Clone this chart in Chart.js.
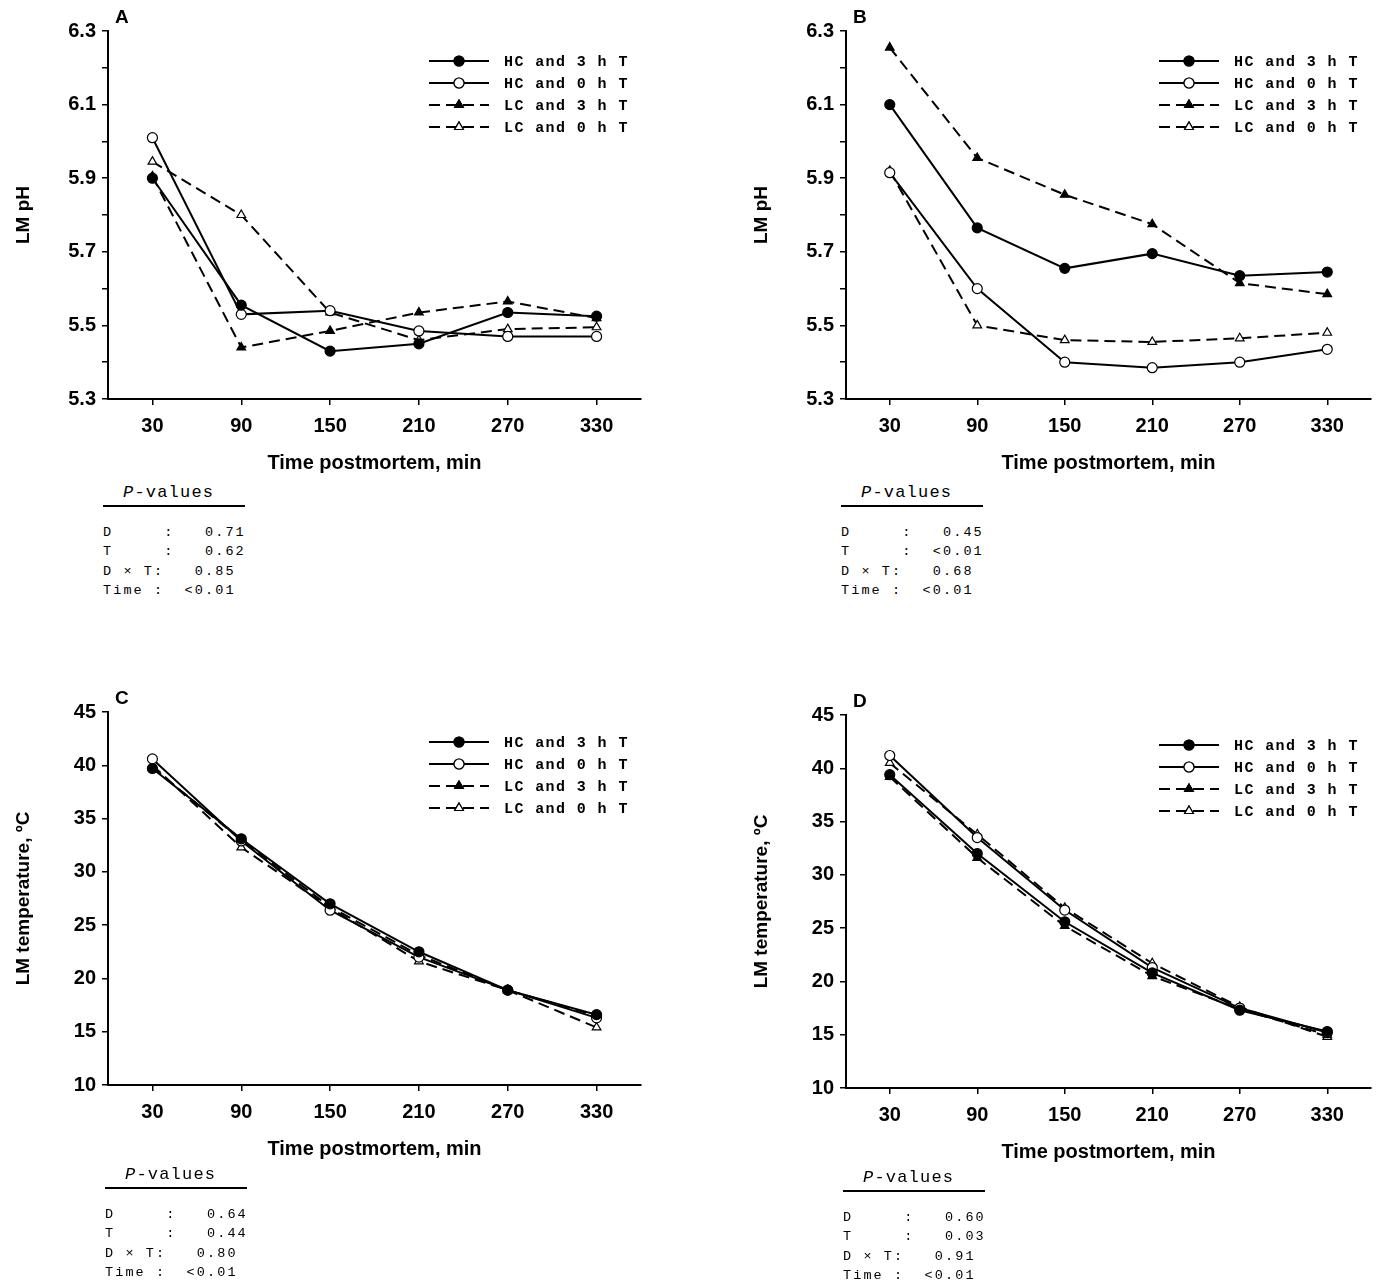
<!DOCTYPE html>
<html><head><meta charset="utf-8">
<script src="https://cdn.jsdelivr.net/npm/chart.js@4/dist/chart.umd.min.js"></script>
<style>
body{margin:0;background:#fff;width:1381px;height:1282px;position:relative;overflow:hidden}
canvas{position:absolute}
.pv{position:absolute;font-family:"Liberation Mono",monospace;font-size:13.5px;letter-spacing:2.1px;line-height:19.3px;white-space:pre;color:#000}
.pv .h{font-size:17px;letter-spacing:1.2px;display:block;border-bottom:2px solid #000;width:142px;padding-left:20px;box-sizing:border-box;margin-bottom:16px;line-height:24px}
</style></head><body>
<canvas id="cA"></canvas><canvas id="cB"></canvas><canvas id="cC"></canvas><canvas id="cD"></canvas>
<div class="pv" style="left:103px;top:481px"><span class="h"><i>P</i>-values</span>D     :   0.71
T     :   0.62
D × T:   0.85
Time :  <0.01</div>
<div class="pv" style="left:841px;top:481px"><span class="h"><i>P</i>-values</span>D     :   0.45
T     :  <0.01
D × T:   0.68
Time :  <0.01</div>
<div class="pv" style="left:105px;top:1163px"><span class="h"><i>P</i>-values</span>D     :   0.64
T     :   0.44
D × T:   0.80
Time :  <0.01</div>
<div class="pv" style="left:843px;top:1166px"><span class="h"><i>P</i>-values</span>D     :   0.60
T     :   0.03
D × T:   0.91
Time :  <0.01</div>
<script>
const times = [30, 90, 150, 210, 270, 330];
const seriesNames = ["HC and 3 h T", "HC and 0 h T", "LC and 3 h T", "LC and 0 h T"];
const phTicks = [5.3, 5.5, 5.7, 5.9, 6.1, 6.3];
const tempTicks = [10, 15, 20, 25, 30, 35, 40, 45];
// Panel A (pH)
const A_HC3 = [5.90, 5.555, 5.43, 5.45, 5.535, 5.525];
const A_HC0 = [6.01, 5.53, 5.54, 5.485, 5.47, 5.47];
const A_LC3 = [5.905, 5.44, 5.485, 5.535, 5.565, 5.52];
const A_LC0 = [5.945, 5.80, 5.535, 5.46, 5.49, 5.495];
// Panel B (pH)
const B_HC3 = [6.10, 5.765, 5.655, 5.695, 5.635, 5.645];
const B_HC0 = [5.915, 5.60, 5.40, 5.385, 5.40, 5.435];
const B_LC3 = [6.255, 5.955, 5.855, 5.775, 5.615, 5.585];
const B_LC0 = [5.92, 5.50, 5.46, 5.455, 5.465, 5.48];
// Panel C (temperature)
const C_HC3 = [39.7, 33.1, 27.0, 22.5, 18.9, 16.6];
const C_HC0 = [40.6, 32.9, 26.4, 22.0, 18.9, 16.3];
const C_LC3 = [39.8, 33.0, 26.7, 22.2, 18.9, 16.5];
const C_LC0 = [40.0, 32.3, 26.6, 21.6, 18.9, 15.4];
// Panel D (temperature)
const D_HC3 = [39.4, 32.0, 25.6, 20.8, 17.3, 15.3];
const D_HC0 = [41.2, 33.5, 26.7, 21.3, 17.5, 15.2];
const D_LC3 = [39.2, 31.6, 25.2, 20.5, 17.4, 15.0];
const D_LC0 = [40.5, 33.8, 26.9, 21.7, 17.6, 14.8];

const styles = [
  {dash: [], fill: '#000', ps: 'circle'},
  {dash: [], fill: '#fff', ps: 'circle'},
  {dash: [11, 6], fill: '#000', ps: 'triangle'},
  {dash: [11, 6], fill: '#fff', ps: 'triangle'}
];

const legendPlugin = {
  id: 'customLegend',
  afterDraw(chart) {
    const ctx = chart.ctx, a = chart.chartArea;
    const x0 = a.right - 212, x1 = a.right - 152, tx = a.right - 137;
    chart.data.datasets.forEach((ds, i) => {
      const y = a.top + 30 + i * 22;
      ctx.save();
      ctx.strokeStyle = '#000'; ctx.lineWidth = 2; ctx.setLineDash(styles[i].dash);
      ctx.beginPath(); ctx.moveTo(x0, y); ctx.lineTo(x1, y); ctx.stroke();
      ctx.setLineDash([]);
      ctx.fillStyle = styles[i].fill; ctx.lineWidth = 1.2;
      Chart.helpers.drawPoint(ctx, {pointStyle: styles[i].ps, radius: 5, borderWidth: 1.2}, (x0 + x1) / 2, y);
      ctx.fill(); ctx.stroke();
      ctx.fillStyle = '#000'; ctx.font = 'bold 15px "Liberation Mono", monospace';
      ctx.letterSpacing = '1.4px';
      ctx.textBaseline = 'middle'; ctx.fillText(ds.label, tx, y + 1);
      ctx.restore();
    });
    ctx.save();
    ctx.fillStyle = '#000'; ctx.font = 'bold 19px "Liberation Sans", Arial';
    ctx.textBaseline = 'middle';
    ctx.fillText(chart.options.panelLetter, a.left + 7, a.top - 13);
    ctx.restore();
  }
};

function makeChart(id, left, top, plotW, plotH, letter, data, yMin, yMax, yStep, yLabelTicks, yTitle, decimals) {
  const cv = document.getElementById(id);
  const yW = 100, xH = 82, padT = 32, padR = 20, padL = 8;
  const W = padL + yW + plotW + padR, H = padT + plotH + xH;
  cv.style.left = left + 'px'; cv.style.top = top + 'px';
  cv.width = W; cv.height = H; cv.style.width = W + 'px'; cv.style.height = H + 'px';
  new Chart(cv, {
    type: 'line',
    data: {
      datasets: data.map((vals, i) => ({
        label: seriesNames[i],
        data: vals.map((v, j) => ({x: times[j], y: v})),
        borderColor: '#000', borderWidth: 2, borderDash: styles[i].dash,
        pointStyle: styles[i].ps, pointRadius: 5, pointBackgroundColor: styles[i].fill,
        pointBorderColor: '#000', pointBorderWidth: 1.2, tension: 0, fill: false
      }))
    },
    options: {
      panelLetter: letter,
      responsive: false, animation: false, devicePixelRatio: 1,
      layout: {padding: {top: padT, right: padR, left: padL, bottom: 0}},
      plugins: {legend: {display: false}, tooltip: {enabled: false}},
      scales: {
        x: {
          type: 'linear', min: 0, max: 360,
          afterBuildTicks: s => { s.ticks = times.map(v => ({value: v})); },
          afterFit: s => { s.height = xH; },
          border: {color: '#000', width: 2},
          grid: {drawOnChartArea: false, color: '#000', tickLength: 6, lineWidth: 1.5},
          ticks: {color: '#000', font: {family: '"Liberation Sans", Arial', size: 20, weight: 'bold'}, padding: 9, maxRotation: 0},
          title: {display: true, text: 'Time postmortem, min', color: '#000', font: {family: '"Liberation Sans", Arial', size: 20, weight: 'bold'}, padding: {top: 0, bottom: 6}}
        },
        y: {
          type: 'linear', min: yMin, max: yMax,
          afterBuildTicks: s => {
            const t = []; for (let v = yMin; v <= yMax + 1e-9; v += yStep) t.push({value: +v.toFixed(3)});
            s.ticks = t;
          },
          afterFit: s => { s.width = yW; },
          border: {color: '#000', width: 2},
          grid: {drawOnChartArea: false, color: '#000', tickLength: 6, lineWidth: 1.5},
          ticks: {color: '#000', font: {family: '"Liberation Sans", Arial', size: 20, weight: 'bold'}, padding: 6,
            callback: v => yLabelTicks.some(t => Math.abs(t - v) < 1e-6) ? v.toFixed(decimals) : ''},
          title: {display: true, text: yTitle, color: '#000', font: {family: '"Liberation Sans", Arial', size: 19, weight: 'bold'}, padding: {bottom: 4}}
        }
      }
    },
    plugins: [legendPlugin]
  });
}

makeChart('cA', 0, -1, 533, 368, 'A', [A_HC3, A_HC0, A_LC3, A_LC0], 5.3, 6.3, 0.1, phTicks, 'LM pH', 1);
makeChart('cB', 738, -1, 525, 368, 'B', [B_HC3, B_HC0, B_LC3, B_LC0], 5.3, 6.3, 0.1, phTicks, 'LM pH', 1);
makeChart('cC', 0, 680, 533, 373, 'C', [C_HC3, C_HC0, C_LC3, C_LC0], 10, 45, 5, tempTicks, 'LM temperature, ºC', 0);
makeChart('cD', 738, 683, 525, 373, 'D', [D_HC3, D_HC0, D_LC3, D_LC0], 10, 45, 5, tempTicks, 'LM temperature, ºC', 0);
</script>
</body></html>
